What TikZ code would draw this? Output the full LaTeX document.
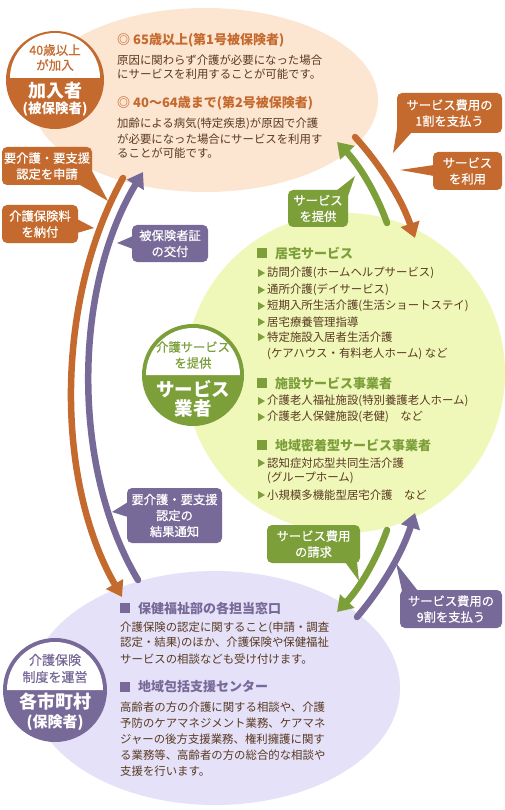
\documentclass[tikz,border=0pt]{standalone}
\usepackage{fontspec}
\setmainfont{Noto Sans CJK JP}
\newfontfamily\medfont{Noto Sans CJK JP}[FakeBold=0.7]
\usetikzlibrary{arrows.meta}
\definecolor{orC}{HTML}{C46A2E}
\definecolor{grC}{HTML}{7C9F3A}
\definecolor{puC}{HTML}{786A98}
\definecolor{peachC}{HTML}{FCE5D1}
\definecolor{lgrC}{HTML}{EFF7B9}
\definecolor{lpuC}{HTML}{E4E1F8}
\definecolor{txtC}{HTML}{5A3A22}
\newcommand\fz[2]{\fontsize{#1}{#2}\selectfont}
\newcommand\tri[2]{\fill[grC] (#1,#2-4) -- (#1+7,#2) -- (#1,#2+4) -- cycle;}
\newcommand\sq[3]{\fill[#3] (#1,#2-5) rectangle (#1+10,#2+5);}
\begin{document}
\begin{tikzpicture}[x=1pt,y=-1pt,
 cbox/.style={rounded corners=5pt,inner sep=0pt,text=white,align=center,font=\medfont\fz{12.3}{16}},
 boxO/.style={cbox,fill=orC}, boxG/.style={cbox,fill=grC}, boxP/.style={cbox,fill=puC},
 body/.style={anchor=west,inner sep=0pt,text=txtC,font=\fz{11.4}{14}},
 headO/.style={anchor=west,inner sep=0pt,text=orC,font=\bfseries\fz{13}{14}},
 headG/.style={headO,text=grC}, headP/.style={headO,text=puC},
 arrO/.style={draw=orC,line width=6.5pt,line cap=round,-{Triangle[width=19pt,length=15pt]}},
 arrG/.style={arrO,draw=grC}, arrP/.style={arrO,draw=puC},
 btxt/.style={inner sep=0pt,align=center}
]
\useasboundingbox (0,0) rectangle (504,810);
\fill[white] (0,0) rectangle (504,810);

% regions
\fill[peachC] (205,100) ellipse [x radius=173, y radius=92];
\fill[lgrC] (345,373) circle [radius=160];
\fill[lpuC] (215,688) ellipse [x radius=185, y radius=117];

% arrows
\coordinate (oa1) at (123,178); \coordinate (oa2) at (122,597);
\coordinate (pa1) at (138,580); \coordinate (pa2) at (143,172);
\draw[arrO] (oa1) .. controls (55,300) and (55,480) .. (oa2);
\draw[arrP] (pa1) .. controls (72,470) and (72,290) .. (pa2);
\coordinate (ga1) at (387,223); \coordinate (ga2) at (337,142);
\coordinate (ob1) at (355,137); \coordinate (ob2) at (415,238);
\draw[arrG] (ga1) .. controls (376,192.4) and (359.4,165.4) .. (ga2);
\draw[arrO] (ob1) .. controls (381.9,166.6) and (401.9,200.2) .. (ob2);
\coordinate (gb1) at (387,530); \coordinate (gb2) at (337,612);
\coordinate (pb1) at (357,617); \coordinate (pb2) at (415,513);
\draw[arrG] (gb1) .. controls (376,560.8) and (359.4,588.2) .. (gb2);
\draw[arrP] (pb1) .. controls (383.3,586.2) and (402.7,551.6) .. (pb2);

% callouts
\fill[orC] (92,171) -- (108,201) -- (80,185) -- cycle;
\node[boxO,minimum width=90,minimum height=38] (c1) at (47,166) {要介護・要支援\\認定を申請};
\fill[orC] (77,219) -- (94,228) -- (77,233) -- cycle;
\node[boxO,minimum width=76,minimum height=38] (c2) at (40,224) {介護保険料\\を納付};
\fill[puC] (133,236) -- (117,243) -- (133,249) -- cycle;
\node[boxP,minimum width=76,minimum height=37] (c3) at (170,243.5) {被保険者証\\の交付};
\fill[puC] (128,502) -- (112,512) -- (128,517) -- cycle;
\node[boxP,minimum width=95,minimum height=55] (c4) at (174.5,515.5) {要介護・要支援\\認定の\\結果通知};
\fill[orC] (398,123) -- (393,153) -- (412,132) -- cycle;
\node[boxO,minimum width=105,minimum height=40] (c5) at (449.5,113) {サービス費用の\\1割を支払う};
\fill[orC] (434,165) -- (400,170) -- (434,176) -- cycle;
\node[boxO,minimum width=69,minimum height=38] (c6) at (467.5,171) {サービス\\を利用};
\fill[grC] (336,191) -- (355,176) -- (347,199) -- cycle;
\node[boxG,minimum width=60,minimum height=37] (c7) at (318,208.5) {サービス\\を提供};
\fill[grC] (345,562) -- (359,581) -- (357,562) -- cycle;
\node[boxG,minimum width=93,minimum height=38] (c8) at (313.5,544) {サービス費用\\の請求};
\fill[puC] (402,591) -- (396,563) -- (418,591) -- cycle;
\node[boxP,minimum width=102,minimum height=38] (c9) at (451,609) {サービス費用の\\9割を支払う};

% top ellipse text
\node[headO] (h1) at (117,40) {◎ 65歳以上(第1号被保険者)};
\node[body] (t1) at (117,60) {原因に関わらず介護が必要になった場合};
\node[body] (t2) at (117,74) {にサービスを利用することが可能です。};
\node[headO] (h2) at (117,103) {◎ 40〜64歳まで(第2号被保険者)};
\node[body] (t3) at (117,124) {加齢による病気(特定疾患)が原因で介護};
\node[body] (t4) at (117,139) {が必要になった場合にサービスを利用す};
\node[body] (t5) at (117,153) {ることが可能です。};

% green circle text
\sq{257}{253}{grC}
\node[headG] (gh1) at (275,253) {居宅サービス};
\tri{258}{273} \node[body] (g1) at (267,273) {訪問介護(ホームヘルプサービス)};
\tri{258}{290} \node[body] (g2) at (267,290) {通所介護(デイサービス)};
\tri{258}{306} \node[body] (g3) at (267,306) {短期入所生活介護(生活ショートステイ)};
\tri{258}{322} \node[body] (g4) at (267,322) {居宅療養管理指導};
\tri{258}{337} \node[body] (g5) at (267,337) {特定施設入居者生活介護};
\node[body] (g6) at (267,354) {(ケアハウス・有料老人ホーム) など};
\sq{257}{383}{grC}
\node[headG] (gh2) at (275,383) {施設サービス事業者};
\tri{258}{401} \node[body] (g7) at (267,401) {介護老人福祉施設(特別養護老人ホーム)};
\tri{258}{417} \node[body] (g8) at (267,417) {介護老人保健施設(老健)\quad など};
\sq{257}{445}{grC}
\node[headG] (gh3) at (275,445) {地域密着型サービス事業者};
\tri{258}{463} \node[body] (g9) at (267,463) {認知症対応型共同生活介護};
\node[body] (g10) at (267,478) {(グループホーム)};
\tri{258}{495} \node[body] (g11) at (267,495) {小規模多機能型居宅介護\quad など};

% bottom ellipse text
\sq{120}{608}{puC}
\node[headP] (bh1) at (138,608) {保健福祉部の各担当窓口};
\node[body] (b1) at (120,628) {介護保険の認定に関すること(申請・調査};
\node[body] (b2) at (120,643) {認定・結果)のほか、介護保険や保健福祉};
\node[body] (b3) at (120,659) {サービスの相談なども受け付けます。};
\sq{120}{687}{puC}
\node[headP] (bh2) at (138,687) {地域包括支援センター};
\node[body] (b4) at (120,707) {高齢者の方の介護に関する相談や、介護};
\node[body] (b5) at (120,723) {予防のケアマネジメント業務、ケアマネ};
\node[body] (b6) at (120,739) {ジャーの後方支援業務、権利擁護に関す};
\node[body] (b7) at (120,755) {る業務等、高齢者の方の総合的な相談や};
\node[body] (b8) at (120,771) {支援を行います。};

% badge 1
\fill[orC] (55,80) circle [radius=49];
\fill[white] (10,78) arc [start angle=180, end angle=360, radius=45] -- cycle;
\node[btxt,text=orC,font=\medfont\fz{12.5}{14}] (k1a) at (55,50) {40歳以上};
\node[btxt,text=orC,font=\medfont\fz{12.5}{14}] (k1b) at (55,65) {が加入};
\node[btxt,text=white,font=\bfseries\fz{18}{20}] (k1c) at (55,91) {加入者};
\node[btxt,text=white,font=\bfseries\fz{13.5}{15}] (k1d) at (55,109) {(被保険者)};

% badge 2
\fill[grC] (193,375) circle [radius=51];
\fill[white] (146,375) arc [start angle=180, end angle=360, radius=47] -- cycle;
\node[btxt,text=grC,font=\medfont\fz{12.3}{14}] (k2a) at (193,347) {介護サービス};
\node[btxt,text=grC,font=\medfont\fz{12.3}{14}] (k2b) at (193,363) {を提供};
\node[btxt,text=white,font=\bfseries\fz{18.5}{20}] (k2c) at (193,389) {サービス};
\node[btxt,text=white,font=\bfseries\fz{18.5}{20}] (k2d) at (193,408) {業者};

% badge 3
\fill[puC] (55,690) circle [radius=52];
\fill[white] (7,690) arc [start angle=180, end angle=360, radius=48] -- cycle;
\node[btxt,text=puC,font=\medfont\fz{13}{14}] (k3a) at (55,660) {介護保険};
\node[btxt,text=puC,font=\medfont\fz{13}{14}] (k3b) at (55,677) {制度を運営};
\node[btxt,text=white,font=\bfseries\fz{18}{20}] (k3c) at (55,702) {各市町村};
\node[btxt,text=white,font=\bfseries\fz{15}{16}] (k3d) at (55,723) {(保険者)};
\end{tikzpicture}
\end{document}
